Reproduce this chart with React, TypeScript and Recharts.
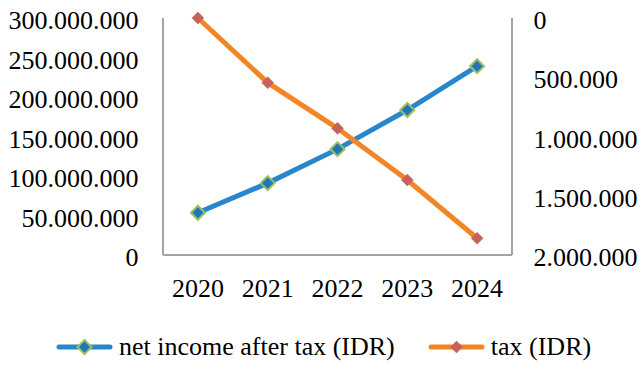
import React from "react";
import { LineChart, Line, XAxis, YAxis, Legend } from "recharts";

// Yearly figures
const years = ["2020", "2021", "2022", "2023", "2024"];
const netIncomeAfterTax = [53500000, 91000000, 134000000, 183500000, 239000000];
const tax = [0, 546000, 931000, 1367000, 1859000];

const leftTicks = [0, 50000000, 100000000, 150000000, 200000000, 250000000, 300000000];
const rightTicks = [0, 500000, 1000000, 1500000, 2000000];

const data = years.map((year, i) => ({
  year,
  netIncome: netIncomeAfterTax[i],
  tax: tax[i],
}));

const FONT = "Liberation Serif";
const FONT_SIZE = 26;
const AXIS_GRAY = "#A3A3A3";

const BLUE = "#2887CC";
const BLUE_MARK = "#1F76BD";
const GREEN_EDGE = "#9DC15E";
const ORANGE = "#F28524";
const RED_MARK = "#C9615B";

// Dotted thousands separator, e.g. 300.000.000
const fmt = (v: number) => String(Math.round(v)).replace(/\B(?=(\d{3})+(?!\d))/g, ".");

const Diamond = (fill: string, stroke: string, r: number, sw: number) => (props: any) => {
  const { cx, cy, index } = props;
  if (cx == null || cy == null) return <g key={index} />;
  const pts = `${cx},${cy - r} ${cx + r},${cy} ${cx},${cy + r} ${cx - r},${cy}`;
  return <polygon key={index} points={pts} fill={fill} stroke={stroke} strokeWidth={sw} />;
};

const legendItems: Record<string, { line: string; fill: string; stroke: string; r: number; sw: number }> = {
  netIncome: { line: BLUE, fill: BLUE_MARK, stroke: GREEN_EDGE, r: 7, sw: 2 },
  tax: { line: ORANGE, fill: RED_MARK, stroke: RED_MARK, r: 6, sw: 0.5 },
};

const LegendContent = (props: any) => {
  const { payload = [] } = props;
  return (
    <div style={{ display: "flex", alignItems: "center", paddingLeft: 56 }}>
      {payload.map((entry: any) => {
        const cfg = legendItems[entry.dataKey];
        return (
          <div key={entry.dataKey} style={{ display: "flex", alignItems: "center", marginRight: 33 }}>
            <svg width={57} height={18} style={{ marginRight: 6, display: "block" }}>
              <line x1={3} y1={9} x2={54} y2={9} stroke={cfg.line} strokeWidth={5} strokeLinecap="round" />
              <polygon
                points={`28.5,${9 - cfg.r} ${28.5 + cfg.r},9 28.5,${9 + cfg.r} ${28.5 - cfg.r},9`}
                fill={cfg.fill}
                stroke={cfg.stroke}
                strokeWidth={cfg.sw}
              />
            </svg>
            <span
              style={{
                fontFamily: FONT,
                fontSize: FONT_SIZE,
                lineHeight: "28px",
                color: "#000",
                whiteSpace: "nowrap",
              }}
            >
              {entry.value}
            </span>
          </div>
        );
      })}
    </div>
  );
};

const tickStyle = { fill: "#000", fontSize: FONT_SIZE, fontFamily: FONT };

export default function App() {
  return (
    <div style={{ position: "absolute", left: 0, top: 0, width: 643, height: 367, background: "#fff" }}>
      <LineChart
        width={643}
        height={367}
        data={data}
        margin={{ top: 18, right: 0, bottom: 0, left: 0 }}
      >
        <XAxis
          dataKey="year"
          scale="band"
          height={112}
          tickLine={false}
          tickSize={0}
          tickMargin={24}
          axisLine={{ stroke: AXIS_GRAY, strokeWidth: 2 }}
          tick={tickStyle}
          interval={0}
        />
        <YAxis
          yAxisId="left"
          orientation="left"
          width={163}
          domain={[0, 300000000]}
          ticks={leftTicks}
          tickFormatter={fmt}
          tickLine={false}
          tickSize={0}
          tickMargin={24.5}
          axisLine={{ stroke: AXIS_GRAY, strokeWidth: 2 }}
          tick={{ ...tickStyle, dy: 2 }}
          interval={0}
        />
        <YAxis
          yAxisId="right"
          orientation="right"
          width={131}
          domain={[0, 2000000]}
          ticks={rightTicks}
          reversed
          tickFormatter={fmt}
          tickLine={false}
          tickSize={0}
          tickMargin={21.5}
          axisLine={{ stroke: AXIS_GRAY, strokeWidth: 2 }}
          tick={{ ...tickStyle, dy: 2 }}
          interval={0}
        />
        <Legend
          verticalAlign="middle"
          align="center"
          layout="horizontal"
          wrapperStyle={{ top: 333, left: 0, width: 643 }}
          content={<LegendContent />}
        />
        <Line
          yAxisId="left"
          dataKey="netIncome"
          name="net income after tax (IDR)"
          stroke={BLUE}
          strokeWidth={5}
          dot={Diamond(BLUE_MARK, GREEN_EDGE, 7, 2)}
          activeDot={false}
          isAnimationActive={false}
        />
        <Line
          yAxisId="right"
          dataKey="tax"
          name="tax (IDR)"
          stroke={ORANGE}
          strokeWidth={5}
          dot={Diamond(RED_MARK, RED_MARK, 6, 0.5)}
          activeDot={false}
          isAnimationActive={false}
        />
      </LineChart>
    </div>
  );
}
